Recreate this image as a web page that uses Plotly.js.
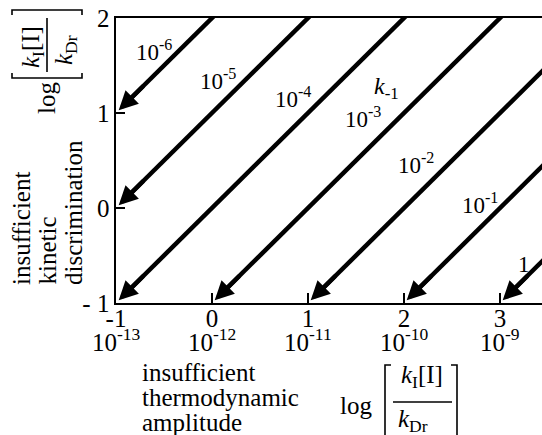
<!DOCTYPE html>
<html>
<head>
<meta charset="utf-8">
<script src="https://cdn.plot.ly/plotly-3.0.1.min.js"></script>
<style>
  html, body { margin: 0; padding: 0; background: #fff; }
  #chart { width: 542px; height: 435px; }
</style>
</head>
<body>
<div id="chart"></div>
<script>
// Lines of constant k-1 in the plane of log(kI[I]/kDr) (x) against log(kI/kDr) (y):
// each line is y = x + offset, ending where it meets the left or bottom axis.
const kMinus1Labels = ['10<sup>-6</sup>', '10<sup>-5</sup>', '10<sup>-4</sup>', '10<sup>-3</sup>',
                       '10<sup>-2</sup>', '10<sup>-1</sup>', '1'];
const lineOffsets = [2, 1, 0, -1, -2, -3, -4];

// axis ticks
const xTickVals = [-1, 0, 1, 2, 3];
const xTickText = ['-1', '0', '1', '2', '3'];
const concExponents = [-13, -12, -11, -10, -9];
const yTickVals = [-1, 0, 1, 2];
const yTickText = ['- 1', '0', '1', '2'];

// label placement for each line (data coordinates)
const labelX = [-0.60, 0.06, 0.84, 1.57, 2.12, 2.79, 3.25];
const labelY = [1.66, 1.35, 1.16, 0.95, 0.47, 0.05, -0.59];

const X_RANGE = [-1, 3.4375];
const Y_RANGE = [-1, 2];
const HEAD_BACK = 0.3;     // arrowhead annotation starts this far back along the line
const BODY_END = 0.1;      // line body stops inside the arrowhead
const LINE_W = 4.5;
const HEAD_SCALE = 3.8;    // arrowwidth * arrowsize

const FONT = '"Liberation Serif", "Times New Roman", Times, serif';

// plot-area geometry in pixels
const M = { l: 116, r: 0, t: 18, b: 132 };
const FIG_W = 542, FIG_H = 435;
const PW = FIG_W - M.l - M.r, PH = FIG_H - M.t - M.b;
const px = v => (v - M.l) / PW;
const py = v => (M.t + PH - v) / PH;

const traces = [];
const annotations = [];

lineOffsets.forEach((c, i) => {
  // arrow tip on the left axis (x = -1) or on the bottom axis (y = -1)
  const tipX = c >= 0 ? X_RANGE[0] : Y_RANGE[0] - c;
  const tipY = tipX + c;
  // entry point on top or right edge, pushed slightly outside so clipping squares it off
  const inX = Math.min(Y_RANGE[1] - c, X_RANGE[1]) + 0.1;
  const inY = inX + c;

  traces.push({
    type: 'scatter', mode: 'lines',
    x: [inX, tipX + BODY_END], y: [inY, tipY + BODY_END],
    line: { color: '#000', width: LINE_W },
    hoverinfo: 'skip', showlegend: false
  });

  annotations.push({
    x: tipX, y: tipY, xref: 'x', yref: 'y',
    ax: tipX + HEAD_BACK, ay: tipY + HEAD_BACK, axref: 'x', ayref: 'y',
    text: '', showarrow: true,
    arrowhead: 2, arrowsize: HEAD_SCALE / LINE_W, arrowwidth: LINE_W, arrowcolor: '#000',
    standoff: HEAD_SCALE
  });

  annotations.push({
    x: labelX[i], y: labelY[i], xref: 'x', yref: 'y',
    text: kMinus1Labels[i], showarrow: false,
    xanchor: 'center', yanchor: 'middle',
    font: { family: FONT, size: 23, color: '#000' }
  });
});

// k-1 heading over the family of lines
annotations.push({
  x: 1.82, y: 1.26, xref: 'x', yref: 'y',
  text: '<i>k</i><sub>-1</sub>', showarrow: false,
  xanchor: 'center', yanchor: 'middle',
  font: { family: FONT, size: 24, color: '#000' }
});

// second row of x tick labels
xTickVals.forEach((v, i) => {
  annotations.push({
    x: v, y: py(340), xref: 'x', yref: 'paper',
    text: '10<sup>' + concExponents[i] + '</sup>', showarrow: false,
    xanchor: 'center', yanchor: 'middle',
    font: { family: FONT, size: 25, color: '#000' }
  });
});

function txt(x, y, text, opts) {
  annotations.push(Object.assign({
    x: px(x), y: py(y), xref: 'paper', yref: 'paper',
    text: text, showarrow: false, xanchor: 'center', yanchor: 'middle',
    font: { family: FONT, size: 25, color: '#000' }
  }, opts || {}));
}

// x axis title
txt(140, 372, 'insufficient', { xanchor: 'left' });
txt(140, 397, 'thermodynamic', { xanchor: 'left' });
txt(140, 422, 'amplitude', { xanchor: 'left' });
txt(356, 405, 'log');
txt(422, 376, '<i>k</i><sub>I</sub>[I]');
txt(413, 420, '<i>k</i><sub>Dr</sub>');

// y axis title (rotated, lines start at a common baseline end)
txt(21.5, 287, 'insufficient', { textangle: -90, yanchor: 'bottom' });
txt(46.5, 287, 'kinetic', { textangle: -90, yanchor: 'bottom' });
txt(73.5, 287, 'discrimination', { textangle: -90, yanchor: 'bottom' });
txt(46, 98, 'log', { textangle: -90 });
txt(32, 47, '<i>k</i><sub>I</sub>[I]', { textangle: -90 });
txt(65, 50, '<i>k</i><sub>Dr</sub>', { textangle: -90 });

// fraction bars and brackets of the axis titles
function pathPx(points) {
  return points.map((p, j) => (j ? 'L' : 'M') + px(p[0]) + ',' + py(p[1])).join(' ');
}
const stroke = { color: '#000', width: 1.6 };
const shapes = [
  [[393, 402], [452, 402]],
  [[391, 365], [385, 365], [385, 445]],
  [[451, 365], [457, 365], [457, 445]],
  [[47, 18], [47, 72]],
  [[12, 15], [12, 10], [82, 10], [82, 15]],
  [[12, 73], [12, 78], [82, 78], [82, 73]]
].map(pts => ({
  type: 'path', xref: 'paper', yref: 'paper', path: pathPx(pts), line: stroke
}));

const layout = {
  width: FIG_W, height: FIG_H, autosize: false,
  margin: M,
  paper_bgcolor: '#fff', plot_bgcolor: '#fff',
  font: { family: FONT, size: 25, color: '#000' },
  showlegend: false,
  xaxis: {
    range: X_RANGE, showgrid: false, zeroline: false,
    showline: true, linecolor: '#000', linewidth: 1.6, mirror: true,
    ticks: 'inside', ticklen: 10, tickwidth: 1.2, tickcolor: '#000',
    tickvals: xTickVals, ticktext: xTickText, ticklabelstandoff: -8,
    tickfont: { family: FONT, size: 25, color: '#000' }
  },
  yaxis: {
    range: Y_RANGE, showgrid: false, zeroline: false,
    showline: true, linecolor: '#000', linewidth: 1.6,
    ticks: 'inside', ticklen: 9, tickwidth: 1.2, tickcolor: '#000',
    tickvals: yTickVals, ticktext: yTickText,
    tickfont: { family: FONT, size: 25, color: '#000' }
  },
  annotations: annotations,
  shapes: shapes
};

Plotly.newPlot('chart', traces, layout, { displayModeBar: false, staticPlot: true });
</script>
</body>
</html>
